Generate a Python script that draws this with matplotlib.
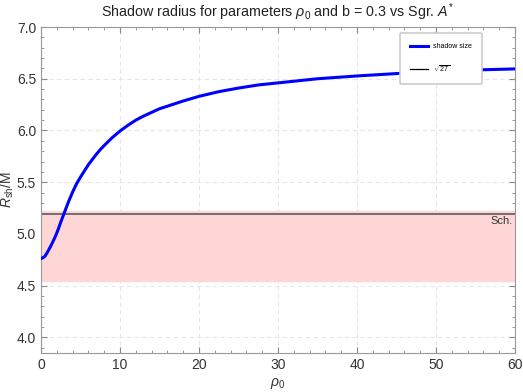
import numpy as np
import matplotlib.pyplot as plt
from matplotlib.ticker import MultipleLocator

# shadow radius
rho0 = [0, 0.25, 0.5, 0.75, 1.0, 1.25, 1.5, 1.75, 2.0, 2.25, 2.5, 2.75, 3.0,
        3.5, 4.0, 4.5, 5.0, 5.5, 6.0, 6.5, 7.0, 7.5, 8.0, 9.0, 10, 11, 12,
        13, 14, 15, 16, 18, 20, 22.5, 25, 27.5, 30, 35, 40, 45, 50, 55, 60]
r_sh = [4.765, 4.77, 4.785, 4.815, 4.85, 4.885, 4.925, 4.965, 5.01, 5.06,
        5.115, 5.165, 5.215, 5.315, 5.405, 5.485, 5.55, 5.61, 5.67, 5.72,
        5.77, 5.815, 5.855, 5.93, 5.995, 6.05, 6.10, 6.14, 6.175, 6.21,
        6.235, 6.285, 6.33, 6.375, 6.41, 6.44, 6.46, 6.50, 6.527, 6.55,
        6.57, 6.585, 6.595]

sch = np.sqrt(27)
band_lo, band_hi = 4.55, 5.22

plt.rcParams['font.family'] = ['Liberation Sans', 'DejaVu Sans']
plt.rcParams['mathtext.fontset'] = 'custom'
plt.rcParams['mathtext.rm'] = 'Liberation Sans'
plt.rcParams['mathtext.it'] = 'Liberation Sans:italic'

fig = plt.figure(figsize=(5.23, 3.92), dpi=100)
ax = fig.add_axes([41 / 523, 1 - 353 / 392, 474 / 523, 326 / 392])

ax.axhspan(band_lo, band_hi, color='#ffd6d6', zorder=1)
ax.axhline(sch, color='#666666', lw=1.3, zorder=2)
ax.plot(rho0, r_sh, color='#0000ff', lw=2.2, label='shadow size', zorder=3)
ax.plot([], [], color='black', lw=0.9, label=r'$\sqrt{27}$')
ax.text(59.7, 5.13, 'Sch.', ha='right', va='center', fontsize=8, color='#333333')

ax.set_xlim(0, 60)
ax.set_ylim(3.85, 7.0)
ax.xaxis.set_major_locator(MultipleLocator(10))
ax.xaxis.set_minor_locator(MultipleLocator(2))
ax.yaxis.set_major_locator(MultipleLocator(0.5))
ax.yaxis.set_minor_locator(MultipleLocator(0.1))
ax.yaxis.set_major_formatter(plt.FormatStrFormatter('%.1f'))

ax.tick_params(which='both', direction='in', top=True, right=True,
               color='#888888', labelcolor='#333333', labelsize=10)
ax.tick_params(which='major', length=4)
ax.tick_params(which='minor', length=2.5)
for s in ax.spines.values():
    s.set_color('#999999')

ax.grid(True, which='major', ls=(0, (4, 3)), color='#e6e6e6', lw=0.8)
ax.set_axisbelow(True)

ax.set_xlabel(r'$\rho_0$', fontsize=10, color='#333333', labelpad=3)
ax.set_ylabel(r'$R_{\mathrm{sh}}$/M', fontsize=10, color='#333333')
ax.yaxis.set_label_coords(-0.052, 0.5)
ax.set_title(r'Shadow radius for parameters $\rho_0$ and b = 0.3 vs Sgr. $A^{*}$',
             fontsize=10.3, color='#222222', pad=7)

leg = ax.legend(loc='upper right', bbox_to_anchor=(0.93, 0.982), fontsize=5,
                frameon=True, fancybox=True, edgecolor='#cccccc', framealpha=1,
                handlelength=2.6, handletextpad=0.6, borderpad=1.5,
                labelspacing=1.9, borderaxespad=0)
leg.get_frame().set_linewidth(1.2)
leg.set_zorder(5)

fig.savefig('out.png', dpi=100)
